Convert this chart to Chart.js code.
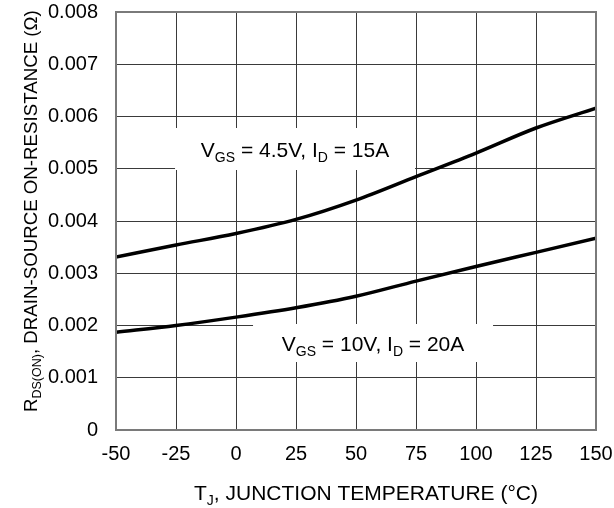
<!DOCTYPE html>
<html>
<head>
<meta charset="utf-8">
<script src="https://cdn.jsdelivr.net/npm/chart.js@4.4.0/dist/chart.umd.min.js"></script>
<style>
  html, body { margin: 0; padding: 0; background: #fff; }
  #wrap { width: 614px; height: 508px; }
</style>
</head>
<body>
<div id="wrap"><canvas id="rdsChart" width="614" height="508"></canvas></div>
<script>
    // Junction temperature (°C)
    const temps = [-50, -25, 0, 25, 50, 75, 100, 125, 150];
    // On-resistance (ohm) for each gate drive
    const rdsVgs45 = [0.00331, 0.00354, 0.00376, 0.00403, 0.00440, 0.00485, 0.00530, 0.00578, 0.00616];
    const rdsVgs10 = [0.00187, 0.00200, 0.00216, 0.00234, 0.00256, 0.00285, 0.00313, 0.00340, 0.00367];
    // Axis ticks
    const xTicks = [-50, -25, 0, 25, 50, 75, 100, 125, 150];
    const yTicks = [0, 0.001, 0.002, 0.003, 0.004, 0.005, 0.006, 0.007, 0.008];

    const FONT = '"Liberation Sans", Arial, Helvetica, sans-serif';

    // Curve captions, anchored in data units
    const captions = [
        { x: 24.6, y: 0.005378, w: 240, h: 42,
          parts: [['V'], ['GS', 1], [' = 4.5V, I'], ['D', 1], [' = 15A']] },
        { x: 57.1, y: 0.001665, w: 240, h: 38,
          parts: [['V'], ['GS', 1], [' = 10V, I'], ['D', 1], [' = 20A']] }
    ];

    // draw text runs with subscripts, starting at (x, y) baseline
    function runsWidth(ctx, parts, size, subSize) {
        let w = 0;
        parts.forEach(p => {
            ctx.font = (p[1] ? subSize : size) + 'px ' + FONT;
            w += ctx.measureText(p[0]).width;
        });
        return w;
    }
    function drawRuns(ctx, parts, x, y, size, subSize, subDrop) {
        ctx.textBaseline = 'alphabetic';
        ctx.textAlign = 'left';
        parts.forEach(p => {
            ctx.font = (p[1] ? subSize : size) + 'px ' + FONT;
            ctx.fillText(p[0], x, p[1] ? y + subDrop : y);
            x += ctx.measureText(p[0]).width;
        });
    }

    const captionPlugin = {
        id: 'captions',
        beforeDatasetsDraw(chart) {
            const ctx = chart.ctx;
            const xs = chart.scales.x, ys = chart.scales.y;
            ctx.save();
            captions.forEach(c => {
                const cx = xs.getPixelForValue(c.x);
                const cy = ys.getPixelForValue(c.y);
                ctx.fillStyle = '#fff';
                ctx.fillRect(cx - c.w / 2, cy - c.h / 2, c.w, c.h);
                const tw = runsWidth(ctx, c.parts, 21, 14);
                ctx.fillStyle = '#000';
                drawRuns(ctx, c.parts, cx - tw / 2, cy + 8, 21, 14, 5);
            });
            ctx.restore();
        },
        afterDatasetsDraw(chart) {
            const ctx = chart.ctx;
            const a = chart.chartArea;
            ctx.save();
            // plot frame
            ctx.strokeStyle = '#7a7a7a';
            ctx.lineWidth = 2;
            ctx.strokeRect(a.left, a.top, a.right - a.left, a.bottom - a.top);

            // x axis title
            ctx.fillStyle = '#000';
            drawRuns(ctx, [['T'], ['J', 1], [', JUNCTION TEMPERATURE (°C)']], 194, 500, 21, 14, 5);

            // y axis title, rotated
            ctx.translate(37, 412);
            ctx.rotate(-Math.PI / 2);
            drawRuns(ctx, [['R'], ['DS(ON)', 1], [', DRAIN-SOURCE ON-RESISTANCE (Ω)']], 0, 0, 18.7, 12.5, 4);
            ctx.restore();
        }
    };

    const data = {
        datasets: [{
            label: 'VGS = 4.5V, ID = 15A',
            data: temps.map((t, i) => ({ x: t, y: rdsVgs45[i] })),
            borderColor: '#000',
            borderWidth: 3.5,
            pointRadius: 0,
            cubicInterpolationMode: 'monotone'
        }, {
            label: 'VGS = 10V, ID = 20A',
            data: temps.map((t, i) => ({ x: t, y: rdsVgs10[i] })),
            borderColor: '#000',
            borderWidth: 3.5,
            pointRadius: 0,
            cubicInterpolationMode: 'monotone'
        }]
    };

    const config = {
        type: 'line',
        data: data,
        options: {
            responsive: false,
            animation: false,
            events: [],
            layout: { padding: { left: 0, top: 12, right: 18, bottom: 0 } },
            plugins: {
                legend: { display: false },
                tooltip: { enabled: false }
            },
            scales: {
                x: {
                    type: 'linear',
                    min: -50,
                    max: 150,
                    afterBuildTicks: s => { s.ticks = xTicks.map(v => ({ value: v })); },
                    afterFit: s => { s.height = 78; s.paddingLeft = 0; s.paddingRight = 0; },
                    grid: { color: '#3a3a3a', lineWidth: 1, drawTicks: false },
                    border: { display: false },
                    ticks: {
                        color: '#000',
                        padding: 12,
                        maxRotation: 0,
                        font: { family: FONT, size: 20 },
                        callback: v => String(v)
                    }
                },
                y: {
                    type: 'linear',
                    min: 0,
                    max: 0.008,
                    afterBuildTicks: s => { s.ticks = yTicks.map(v => ({ value: v })); },
                    afterFit: s => { s.width = 116; s.paddingTop = 0; s.paddingBottom = 0; },
                    grid: { color: '#3a3a3a', lineWidth: 1, drawTicks: false },
                    border: { display: false },
                    ticks: {
                        color: '#000',
                        padding: 18,
                        font: { family: FONT, size: 20 },
                        callback: v => v === 0 ? '0' : v.toFixed(3)
                    }
                }
            }
        },
        plugins: [captionPlugin]
    };

    // Render the chart
    const rdsChart = new Chart(document.getElementById('rdsChart'), config);
</script>
</body>
</html>
